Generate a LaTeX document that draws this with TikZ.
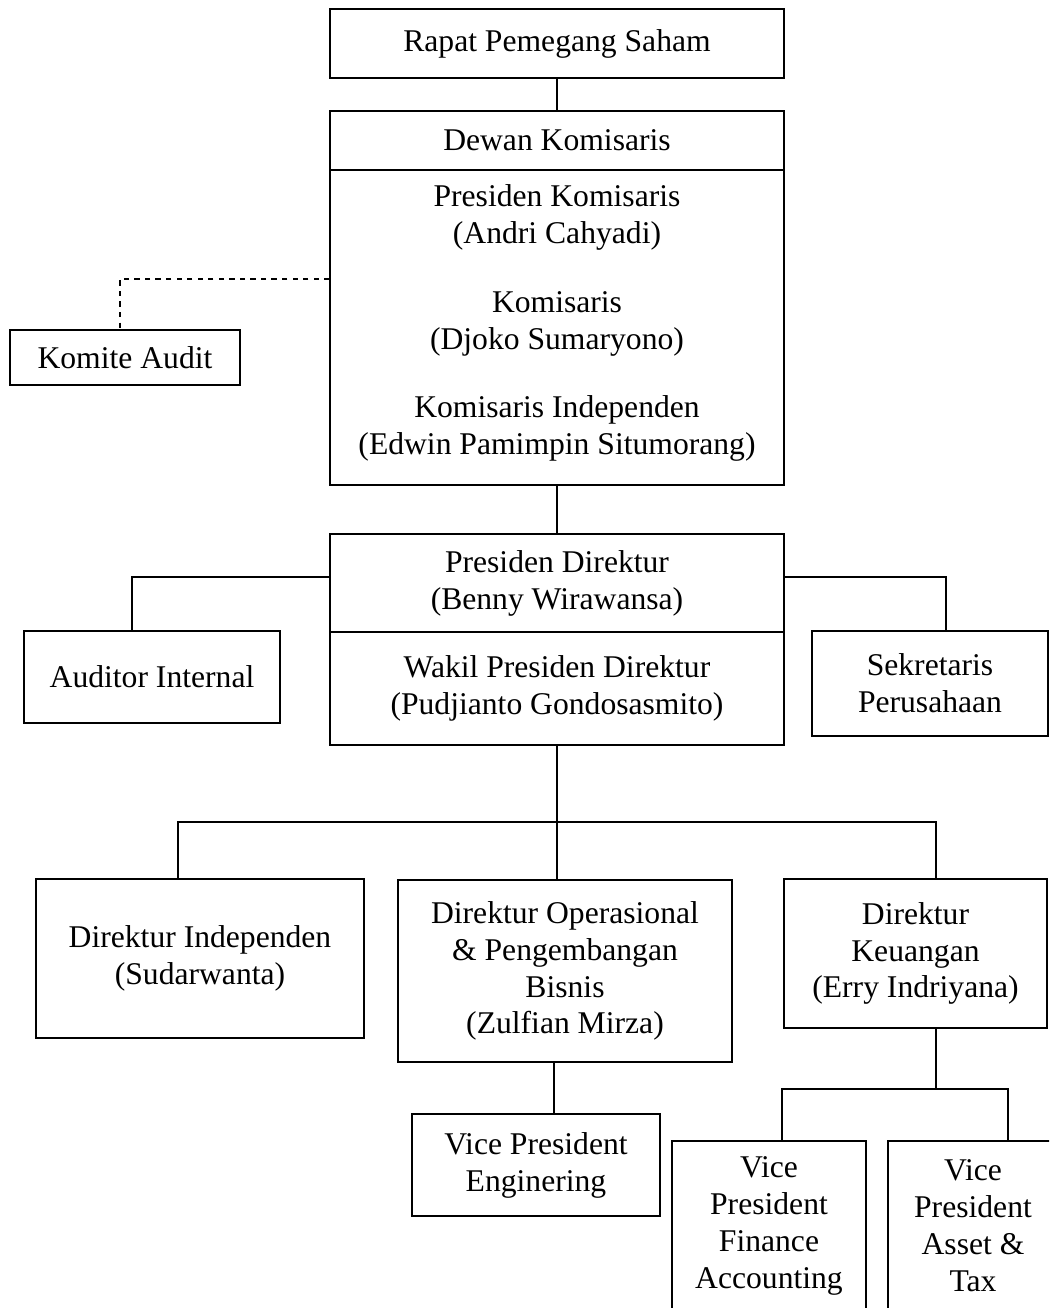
\documentclass[tikz,border=0pt]{standalone}
\usepackage{fontspec}
\setmainfont{Liberation Serif}
\usetikzlibrary{positioning,calc}

\begin{document}
\begin{tikzpicture}[
    x=0.02cm, y=-0.02cm,
    orgbox/.style={rectangle, draw, line width=0.7pt, align=center, inner sep=2pt, font=\fontsize{18}{21}\selectfont},
    link/.style={line width=0.7pt},
    dashlink/.style={line width=0.7pt, dashed}
]
\useasboundingbox (0,0) rectangle (1049,1308);
\clip (0,0) rectangle (1049,1308);

% Top: shareholders and board of commissioners
\node[orgbox, minimum width=9.08cm, minimum height=1.38cm] (rapat) at (557,43.5) {Rapat Pemegang Saham};
\node[orgbox, minimum width=9.08cm, minimum height=1.18cm] (dewan) at (557,140.5) {Dewan Komisaris};
\node[orgbox, minimum width=9.08cm, minimum height=6.3cm] (dewanbody) at (557,327.5)
    {Presiden Komisaris\\(Andri Cahyadi)\\[18pt]Komisaris\\(Djoko Sumaryono)\\[18pt]Komisaris Independen\\(Edwin Pamimpin Situmorang)\\[-12pt]\mbox{}};
\node[orgbox, minimum width=4.6cm, minimum height=1.1cm] (komite) at (125,357.5) {Komite Audit};

% Middle: board of directors
\node[orgbox, minimum width=9.08cm, minimum height=1.96cm] (presdir) at (557,583) {Presiden Direktur\\(Benny Wirawansa)};
\node[orgbox, minimum width=9.08cm, minimum height=2.26cm] (wakil) at (557,688.5) {Wakil Presiden Direktur\\(Pudjianto Gondosasmito)};
\node[orgbox, minimum width=5.12cm, minimum height=1.84cm] (auditor) at (152,677) {Auditor Internal};
\node[orgbox, minimum width=4.72cm, minimum height=2.1cm] (sekretaris) at (930,683.5) {Sekretaris\\Perusahaan};

% Row of directors
\node[orgbox, minimum width=6.56cm, minimum height=3.18cm] (dirind) at (200,958.5) {Direktur Independen\\(Sudarwanta)};
\node[orgbox, minimum width=6.68cm, minimum height=3.64cm] (dirops) at (565,971) {Direktur Operasional\\\& Pengembangan\\Bisnis\\(Zulfian Mirza)};
\node[orgbox, minimum width=5.26cm, minimum height=2.98cm] (dirkeu) at (915.5,953.5) {Direktur\\Keuangan\\(Erry Indriyana)};

% Vice presidents
\node[orgbox, minimum width=4.96cm, minimum height=2.04cm] (vpeng) at (536,1165) {Vice President\\Enginering};
\node[orgbox, minimum width=3.88cm, minimum height=3.4cm] (vpfin) at (769,1226) {Vice\\President\\Finance\\Accounting};
\node[orgbox, minimum width=3.4cm, minimum height=3.4cm] (vpasset) at (973,1226) {Vice\\President\\Asset \&\\Tax};

% Junction points
\coordinate (komj) at (120,279);
\coordinate (audj) at (132,577);
\coordinate (sekj) at (946,577);
\coordinate (busl) at (178,822);
\coordinate (busr) at (936,822);
\coordinate (engx) at (554,0);
\coordinate (vpbusl) at (782,1089);
\coordinate (vpbusr) at (1008,1089);

% Connectors - top
\draw[link] (rapat) -- (dewan);
\draw[link] (dewanbody) -- (presdir);
\draw[dashlink] (komj -| dewanbody.west) -- (komj) -- (komj |- komite.north);

% Connectors - staff of president director
\draw[link] (audj -| presdir.west) -- (audj) -- (audj |- auditor.north);
\draw[link] (sekj -| presdir.east) -- (sekj) -- (sekj |- sekretaris.north);

% Connectors - directors
\draw[link] (wakil.south) -- (wakil.south |- dirops.north);
\draw[link] (busl |- dirind.north) -- (busl) -- (busr) -- (busr |- dirkeu.north);

% Connectors - vice presidents
\draw[link] (engx |- dirops.south) -- (engx |- vpeng.north);
\draw[link] (busr |- dirkeu.south) -- (busr |- vpbusl);
\draw[link] (vpbusl |- vpfin.north) -- (vpbusl) -- (vpbusr) -- (vpbusr |- vpasset.north);

\end{tikzpicture}
\end{document}
